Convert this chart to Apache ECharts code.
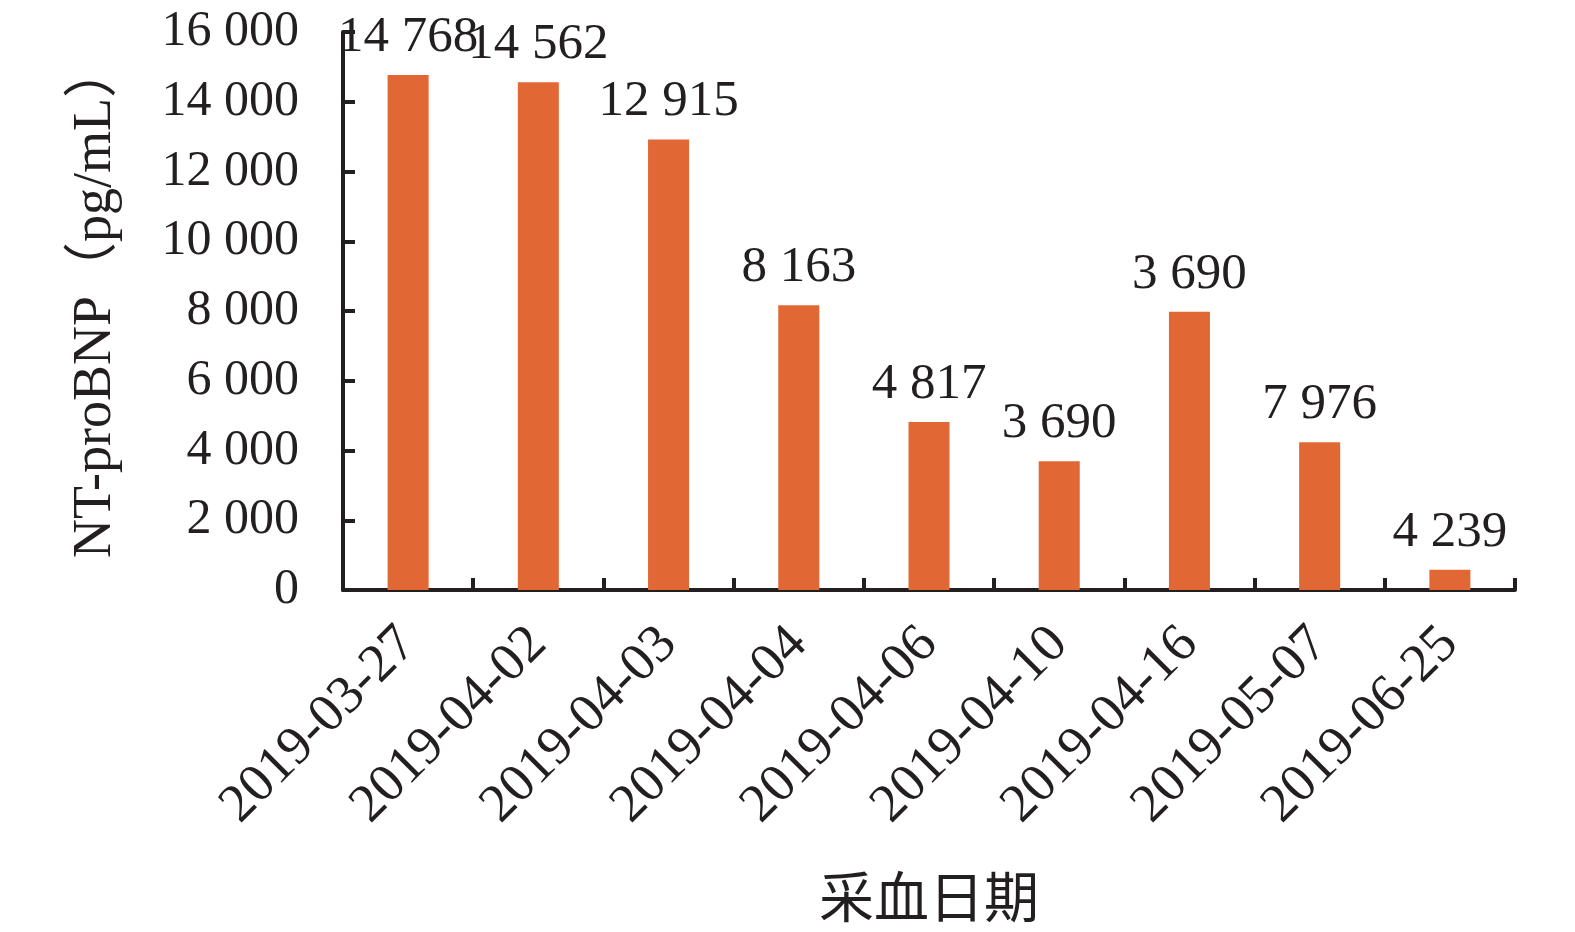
<!DOCTYPE html>
<html>
<head>
<meta charset="utf-8">
<script src="https://cdn.jsdelivr.net/npm/echarts@6/dist/echarts.min.js"></script>
<style>html,body{margin:0;padding:0;background:#fff}#c{width:1575px;height:932px}</style>
</head>
<body>
<div id="c"></div>
<script>
const categories = ['2019-03-27','2019-04-02','2019-04-03','2019-04-04','2019-04-06','2019-04-10','2019-04-16','2019-05-07','2019-06-25'];
const values = [14768, 14562, 12915, 8163, 4817, 3690, 7976, 4239, 580];
const labelTexts = ['14 768','14 562','12 915','8 163','4 817','3 690','3 690','7 976','4 239'];
const yTicks = [0, 2000, 4000, 6000, 8000, 10000, 12000, 14000, 16000];
const yName = 'NT-proBNP（pg/mL）';
const xName = '采血日期';

const FONT = '"Liberation Serif", "Noto Sans CJK SC", serif';
const INK = '#231f20';
const fmt = v => v >= 1000 ? Math.floor(v/1000) + ' ' + String(v % 1000).padStart(3,'0') : String(v);

const chart = echarts.init(document.getElementById('c'));
chart.setOption({
  animation: false,
  grid: { left: 343, right: 60, top: 32, bottom: 342, containLabel: false, outerBoundsMode: 'none' },
  xAxis: {
    type: 'category',
    data: categories,
    name: xName,
    nameLocation: 'middle',
    nameGap: 285,
    nameTextStyle: { fontFamily: FONT, fontSize: 55, color: INK },
    axisLine: { show: true, lineStyle: { color: INK, width: 4 } },
    axisTick: { show: true, inside: true, length: 12, lineStyle: { color: INK, width: 4 } },
    axisLabel: { rotate: 45, margin: 46, fontFamily: FONT, fontSize: 54, color: INK }
  },
  yAxis: {
    type: 'value',
    min: 0, max: 16000, interval: 2000,
    name: yName,
    nameLocation: 'middle',
    nameRotate: 90,
    nameGap: 220,
    nameTextStyle: { fontFamily: FONT, fontSize: 54, color: INK, padding: [0, 0, 0, 20] },
    axisLine: { show: true, lineStyle: { color: INK, width: 4 } },
    axisTick: { show: true, inside: true, length: 12, lineStyle: { color: INK, width: 4 } },
    splitLine: { show: false },
    axisLabel: { margin: 44, fontFamily: FONT, fontSize: 50, color: INK,
      formatter: v => yTicks.includes(v) ? fmt(v) : '' }
  },
  series: [{
    type: 'bar',
    data: values,
    barWidth: '31.5%',
    itemStyle: { color: '#e16835' },
    label: {
      show: true, position: 'top', distance: 12,
      fontFamily: FONT, fontSize: 51, color: INK,
      formatter: p => labelTexts[p.dataIndex]
    }
  }]
});
</script>
</body>
</html>
